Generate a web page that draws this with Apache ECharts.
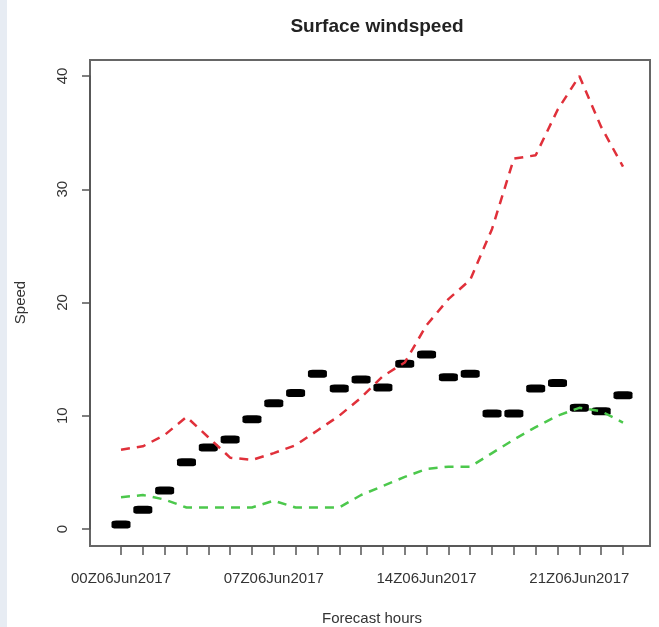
<!DOCTYPE html>
<html>
<head>
<meta charset="utf-8">
<script src="https://cdn.jsdelivr.net/npm/echarts@6/dist/echarts.min.js"></script>
<style>
html,body{margin:0;padding:0;background:#fff;}
#chart{width:659px;height:627px;}
</style>
</head>
<body>
<div id="chart"></div>
<script>
var hours = ["00Z06Jun2017","01Z06Jun2017","02Z06Jun2017","03Z06Jun2017","04Z06Jun2017","05Z06Jun2017",
             "06Z06Jun2017","07Z06Jun2017","08Z06Jun2017","09Z06Jun2017","10Z06Jun2017","11Z06Jun2017",
             "12Z06Jun2017","13Z06Jun2017","14Z06Jun2017","15Z06Jun2017","16Z06Jun2017","17Z06Jun2017",
             "18Z06Jun2017","19Z06Jun2017","20Z06Jun2017","21Z06Jun2017","22Z06Jun2017","23Z06Jun2017"];
var observed = [0.4, 1.7, 3.4, 5.9, 7.2, 7.9, 9.7, 11.1, 12.0, 13.7, 12.4, 13.2,
                12.5, 14.6, 15.4, 13.4, 13.7, 10.2, 10.2, 12.4, 12.9, 10.7, 10.4, 11.8];
var upper = [7.0, 7.3, 8.3, 9.9, 8.1, 6.3, 6.1, 6.7, 7.4, 8.7, 10.0, 11.6,
             13.5, 14.7, 18.0, 20.3, 22.0, 26.5, 32.7, 33.0, 37.0, 40.0, 35.5, 32.0];
var lower = [2.8, 3.0, 2.6, 1.9, 1.9, 1.9, 1.9, 2.5, 1.9, 1.9, 1.9, 3.0,
             3.8, 4.6, 5.3, 5.5, 5.5, 6.7, 7.9, 9.0, 10.0, 10.7, 10.4, 9.4];
var yTicks = [0, 10, 20, 30, 40];
var shownHours = ["00Z06Jun2017","07Z06Jun2017","14Z06Jun2017","21Z06Jun2017"];

var chart = echarts.init(document.getElementById('chart'), null, {renderer:'canvas'});
var txt = '#333';
chart.setOption({
  animation:false,
  backgroundColor:'#fff',
  title:{
    text:'Surface windspeed',
    left:372, top:12, textAlign:'center',
    textStyle:{fontFamily:'Liberation Sans', fontSize:19, fontWeight:'bold', color:'#222'}
  },
  graphic:[
    {type:'rect', shape:{x:0,y:0,width:7,height:627}, style:{fill:'#e7ecf3'}, z:-1, silent:true},
    {type:'rect', shape:{x:90,y:60,width:560,height:486}, style:{fill:'none', stroke:'#666', lineWidth:2}, z:0, silent:true}
  ],
  grid:{left:121, right:36, top:76, bottom:98, containLabel:false, outerBoundsMode:'none'},
  xAxis:{
    type:'category', data:hours, boundaryGap:false, offset:17,
    axisLine:{show:true, onZero:false, lineStyle:{color:'#555', width:1.5}},
    axisTick:{show:true, interval:0, length:9, lineStyle:{color:'#555', width:1.5}},
    axisLabel:{
      interval:0, margin:25, fontFamily:'Liberation Sans', fontSize:15, color:txt,
      formatter:function(v){ return shownHours.indexOf(v) >= 0 ? v : ''; }
    },
    splitLine:{show:false},
    name:'Forecast hours', nameLocation:'middle', nameGap:65,
    nameTextStyle:{fontFamily:'Liberation Sans', fontSize:15, color:txt}
  },
  yAxis:{
    type:'value', min:yTicks[0], max:yTicks[yTicks.length-1], interval:10, offset:31,
    axisLine:{show:true, onZero:false, lineStyle:{color:'#555', width:1.5}},
    axisTick:{show:true, length:8, lineStyle:{color:'#555', width:1.5}},
    axisLabel:{rotate:90, margin:20, fontFamily:'Liberation Sans', fontSize:15, color:txt},
    splitLine:{show:false},
    name:'Speed', nameLocation:'middle', nameGap:62,
    nameTextStyle:{fontFamily:'Liberation Sans', fontSize:15, color:txt}
  },
  series:[
    {type:'scatter', data:observed, symbol:'roundRect', symbolSize:[19,8],
     itemStyle:{color:'#000', opacity:1}, z:2},
    {type:'line', data:upper, showSymbol:false, symbol:'none',
     lineStyle:{color:'#e0303a', width:2.5, type:[9,7]}, z:3},
    {type:'line', data:lower, showSymbol:false, symbol:'none',
     lineStyle:{color:'#4cc84c', width:2.5, type:[9,7]}, z:3}
  ]
});
</script>
</body>
</html>
